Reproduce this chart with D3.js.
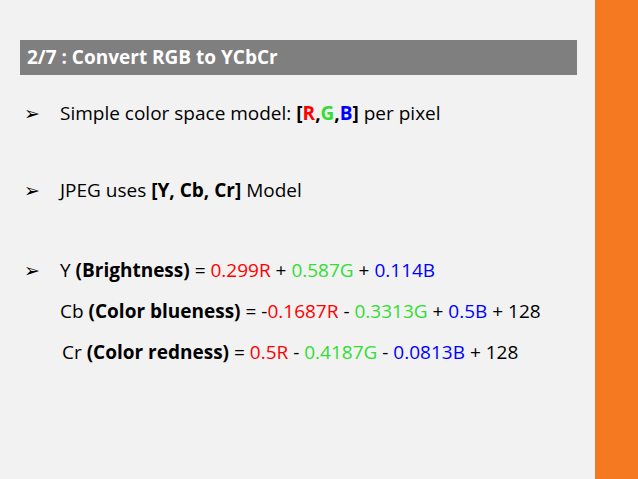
<!DOCTYPE html>
<html>
<meta charset="utf-8">
<head>
<script src="https://cdn.jsdelivr.net/npm/d3@7"></script>
<style>body{margin:0;background:#f2f2f2;} text{font-family:"Open Sans",sans-serif;}</style>
</head>
<body>
<script>
var title = "2/7 : Convert RGB to YCbCr";
var R = "#ff0000", G = "#33dd33", B = "#0000ff", K = "#000";
// each line: [bullet?, x, baseline y, segments [text, colour, bold]]
var line1 = [["Simple color space model: ",K,0],["[",K,1],["R",R,1],[",",K,1],["G",G,1],[",",K,1],["B",B,1],["]",K,1],[" per pixel",K,0]];
var line2 = [["JPEG uses ",K,0],["[Y, Cb, Cr]",K,1],[" Model",K,0]];
var line3 = [["Y ",K,0],["(Brightness)",K,1],[" = ",K,0],["0.299R",R,0],[" + ",K,0],["0.587G",G,0],[" + ",K,0],["0.114B",B,0]];
var line4 = [["Cb ",K,0],["(Color blueness)",K,1],[" = -",K,0],["0.1687R",R,0],[" - ",K,0],["0.3313G",G,0],[" + ",K,0],["0.5B",B,0],[" + 128",K,0]];
var line5 = [["Cr ",K,0],["(Color redness)",K,1],[" = ",K,0],["0.5R",R,0],[" - ",K,0],["0.4187G",G,0],[" - ",K,0],["0.0813B",B,0],[" + 128",K,0]];
var lines = [[1,60,120,line1],[1,60,197,line2],[1,60,277,line3],[0,60,318,line4],[0,62,359,line5]];

var svg = d3.select("body").append("svg").attr("width",638).attr("height",479);
svg.append("rect").attr("width",638).attr("height",479).attr("fill","#f2f2f2");
svg.append("rect").attr("x",595).attr("y",0).attr("width",43).attr("height",479).attr("fill","#f47920");
svg.append("rect").attr("x",20).attr("y",40).attr("width",557).attr("height",35).attr("fill","#7f7f7f");
svg.append("text").attr("x",27).attr("y",64).attr("fill","#fff").attr("font-size",19).attr("font-weight","bold").text(title);

lines.forEach(function(l){
  if(l[0]) svg.append("text").attr("x",24).attr("y",l[2]).attr("font-size",19).text("\u27a2");
  var t = svg.append("text").attr("x",l[1]).attr("y",l[2]).attr("font-size",19).attr("xml:space","preserve").style("white-space","pre");
  t.selectAll("tspan").data(l[3]).join("tspan")
    .attr("fill",function(d){return d[1];})
    .attr("font-weight",function(d){return d[2]?"bold":"normal";})
    .text(function(d){return d[0];});
});
</script>
</body>
</html>
